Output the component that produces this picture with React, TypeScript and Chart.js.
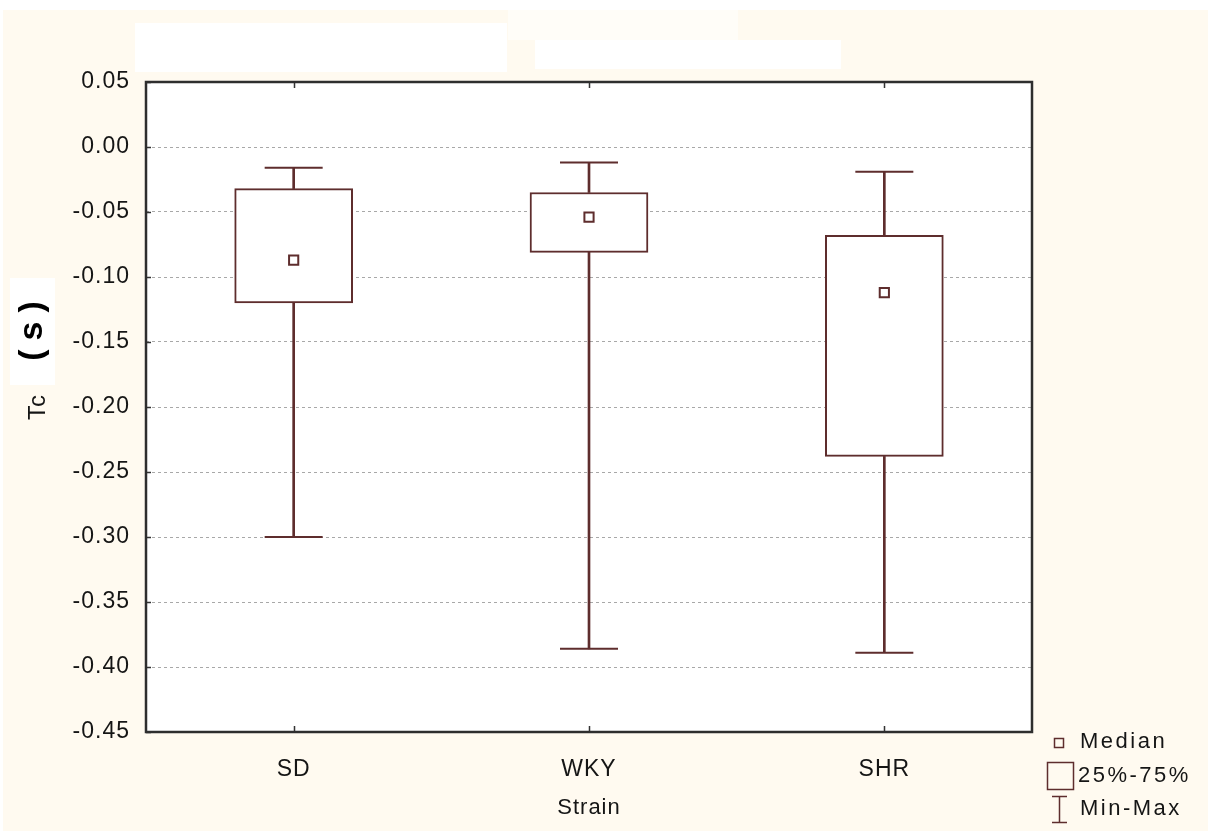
import React, { useEffect, useRef } from 'react';
import { Chart, registerables } from 'chart.js';

Chart.register(...registerables);

const categories = ['SD', 'WKY', 'SHR'];
const medians = [-0.087, -0.054, -0.112];
const q1 = [-0.120, -0.081, -0.238];
const q3 = [-0.032, -0.035, -0.068];
const mins = [-0.300, -0.386, -0.389];
const maxs = [-0.016, -0.012, -0.019];
const yTickValues = [0.05, 0.0, -0.05, -0.1, -0.15, -0.2, -0.25, -0.3, -0.35, -0.4, -0.45];
const legendLabels = ['Median', '25%-75%', 'Min-Max'];
const xTitle = 'Strain';
const yTitle = 'Tc';
const yUnit = '(s)';

const BROWN = '#5e2d2d';
const TEXT = '#151515';
const FONT = "'Liberation Sans', Arial, sans-serif";

const decorPlugin = {
  id: 'decor',
  beforeDraw(chart: any) {
    const { ctx, chartArea: a, width, height } = chart;
    ctx.save();
    ctx.fillStyle = '#ffffff';
    ctx.fillRect(0, 0, width, height);
    ctx.fillStyle = '#fffaf0';
    ctx.fillRect(3, 10, width - 3, height - 10);
    ctx.fillStyle = '#fffdf8';
    ctx.fillRect(508, 10, 230, 30);
    ctx.fillStyle = '#ffffff';
    ctx.fillRect(135, 23, 372, 49);
    ctx.fillRect(535, 40, 306, 29);
    ctx.fillRect(a.left, a.top, a.right - a.left, a.bottom - a.top);
    ctx.restore();
    ctx.letterSpacing = '1px';
  },
  afterDatasetsDraw(chart: any) {
    const { ctx, chartArea: a, scales } = chart;
    ctx.save();
    ctx.strokeStyle = '#333';
    ctx.lineWidth = 1.5;
    ctx.beginPath();
    scales.x.ticks.forEach((_: any, i: number) => {
      const px = Math.round(scales.x.getPixelForTick(i)) + 0.5;
      ctx.moveTo(px, a.top);
      ctx.lineTo(px, a.top + 6);
      ctx.moveTo(px, a.bottom);
      ctx.lineTo(px, a.bottom - 6);
    });
    scales.y.ticks.forEach((t: any) => {
      const py = Math.round(scales.y.getPixelForValue(t.value)) + 0.5;
      ctx.moveTo(a.left, py);
      ctx.lineTo(a.left + 5, py);
    });
    ctx.stroke();
    ctx.lineWidth = 2.5;
    ctx.strokeStyle = '#2e2e2e';
    ctx.strokeRect(a.left, a.top, a.right - a.left, a.bottom - a.top);
    ctx.restore();
  },
  afterDraw(chart: any) {
    const { ctx } = chart;
    ctx.save();
    // unit label
    ctx.fillStyle = '#ffffff';
    ctx.fillRect(10, 278, 45, 107);
    ctx.save();
    ctx.translate(33, 331);
    ctx.rotate(-Math.PI / 2);
    ctx.font = `bold 34px ${FONT}`;
    ctx.fillStyle = '#000';
    ctx.textAlign = 'center';
    ctx.textBaseline = 'middle';
    ctx.letterSpacing = '9px';
    ctx.fillText(yUnit, 4.5, 0);
    ctx.restore();

    // legend
    ctx.letterSpacing = '2.5px';
    ctx.font = `22px ${FONT}`;
    ctx.fillStyle = TEXT;
    ctx.textBaseline = 'middle';
    ctx.textAlign = 'left';
    ctx.strokeStyle = BROWN;
    ctx.lineWidth = 1.5;
    ctx.strokeRect(1054.5, 738.5, 9, 9);
    ctx.fillText(legendLabels[0], 1080, 742);
    ctx.strokeRect(1047.5, 762.5, 26, 27);
    ctx.fillText(legendLabels[1], 1078, 776);
    ctx.beginPath();
    ctx.moveTo(1052, 796.5);
    ctx.lineTo(1067, 796.5);
    ctx.moveTo(1059.5, 796.5);
    ctx.lineTo(1059.5, 822.5);
    ctx.moveTo(1052, 822.5);
    ctx.lineTo(1067, 822.5);
    ctx.stroke();
    ctx.fillText(legendLabels[2], 1080, 809);
    ctx.restore();
  },
};

export default function App() {
  const ref = useRef<HTMLCanvasElement | null>(null);

  useEffect(() => {
    if (!ref.current) return;
    const chart = new Chart(ref.current, {
      type: 'bar',
      data: {
        labels: categories,
        datasets: [
          {
            type: 'line',
            label: 'Median',
            data: medians,
            showLine: false,
            pointStyle: 'rect',
            pointRadius: 6.5,
            pointHoverRadius: 6.5,
            pointBackgroundColor: '#ffffff',
            pointBorderColor: BROWN,
            pointBorderWidth: 2,
            order: 0,
          } as any,
          {
            type: 'line',
            label: 'Max',
            data: maxs,
            showLine: false,
            pointStyle: 'line',
            pointRadius: 29,
            pointHoverRadius: 29,
            pointBorderColor: BROWN,
            pointBorderWidth: 2,
            order: 1,
          } as any,
          {
            type: 'line',
            label: 'Min',
            data: mins,
            showLine: false,
            pointStyle: 'line',
            pointRadius: 29,
            pointHoverRadius: 29,
            pointBorderColor: BROWN,
            pointBorderWidth: 2,
            order: 1,
          } as any,
          {
            type: 'bar',
            label: '25%-75%',
            data: categories.map((_, i) => [q1[i], q3[i]]),
            backgroundColor: '#ffffff',
            borderColor: BROWN,
            borderWidth: 2,
            borderSkipped: false,
            barThickness: 118,
            grouped: false,
            order: 2,
          } as any,
          {
            type: 'bar',
            label: 'Upper whisker',
            data: categories.map((_, i) => [q3[i], maxs[i]]),
            backgroundColor: BROWN,
            borderWidth: 0,
            barThickness: 2,
            grouped: false,
            order: 3,
          } as any,
          {
            type: 'bar',
            label: 'Lower whisker',
            data: categories.map((_, i) => [mins[i], q1[i]]),
            backgroundColor: BROWN,
            borderWidth: 0,
            barThickness: 2,
            grouped: false,
            order: 3,
          } as any,
        ],
      },
      options: {
        responsive: false,
        animation: false,
        devicePixelRatio: 1,
        events: [],
        layout: { padding: { top: 82, right: 176, bottom: 0, left: 0 } },
        plugins: {
          legend: { display: false },
          tooltip: { enabled: false },
        },
        scales: {
          x: {
            type: 'category',
            offset: true,
            grid: { display: false },
            border: { display: false },
            ticks: {
              color: TEXT,
              font: { family: FONT, size: 23 },
              padding: 16,
              maxRotation: 0,
            },
            title: {
              display: true,
              text: xTitle,
              color: TEXT,
              font: { family: FONT, size: 22 },
              padding: { top: 0, bottom: 10 },
            },
            afterFit: (s: any) => {
              s.height = 99;
            },
          },
          y: {
            type: 'linear',
            min: -0.45,
            max: 0.05,
            afterBuildTicks: (s: any) => {
              s.ticks = yTickValues.map((v) => ({ value: v }));
            },
            grid: { color: '#a8a8a8', lineWidth: 1, drawTicks: false },
            border: { display: false, dash: [3, 3] },
            ticks: {
              color: TEXT,
              font: { family: FONT, size: 23 },
              padding: 16,
              callback: (v: any) => Number(v).toFixed(2),
            },
            title: {
              display: true,
              text: yTitle,
              color: TEXT,
              font: { family: FONT, size: 24 },
              padding: { top: 24, bottom: 0 },
            },
            afterFit: (s: any) => {
              s.width = 146;
            },
          },
        },
      } as any,
      plugins: [decorPlugin],
    });
    return () => chart.destroy();
  }, []);

  return (
    <div style={{ position: 'fixed', left: 0, top: 0, width: 1208, height: 831 }}>
      <canvas ref={ref} width={1208} height={831} style={{ display: 'block', width: 1208, height: 831 }} />
    </div>
  );
}
